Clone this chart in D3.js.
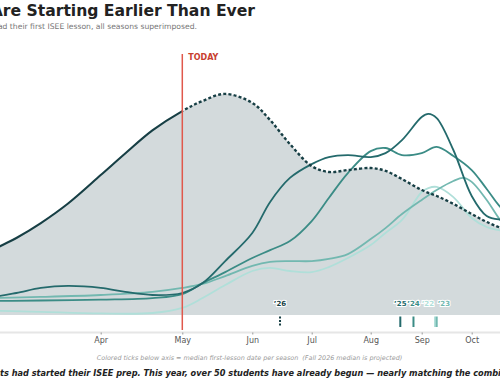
<!DOCTYPE html>
<html><head><meta charset="utf-8">
<script src="https://cdn.jsdelivr.net/npm/d3@7"></script>
<style>
html,body{margin:0;padding:0;background:#fff;overflow:hidden;}
svg{display:block;font-family:"DejaVu Sans",sans-serif;}
</style></head><body>
<svg id="chart" width="500" height="383"></svg>
<script>
// ---------- data ----------
const YEAR = 2026;
const monthTicks = ["04-01","05-01","06-01","07-01","08-01","09-01","10-01"];
const todayDate = "05-01";
const seasons = ["2022","2023","2024","2025","2026"];
const seasonTags = ["\u201922","\u201923","\u201924","\u201925","\u201926"];
const medianDates = ["09-09","09-10","08-27","08-19","06-15"];

const s2022 = [["02-01",0.27],["02-20",0.20],["03-10",0.14],["04-01",0.07],["04-20",0.09],["05-01",0.32],["05-10",0.77],["05-20",1.36],["06-01",2.00],["06-10",2.14],["06-20",2.00],["07-01",1.95],["07-10",2.18],["07-20",2.59],["08-01",3.18],["08-10",3.73],["08-20",4.32],["09-01",5.59],["09-05",5.77],["09-10",5.82],["09-20",5.36],["10-01",4.41],["10-10",4.00],["10-20",3.82],["10-31",3.73]];
const s2023 = [["02-01",0.73],["02-20",0.77],["03-10",0.82],["04-01",0.91],["04-20",1.05],["05-01",1.23],["05-10",1.41],["05-20",1.77],["06-01",2.23],["06-10",2.41],["06-20",2.45],["07-01",2.45],["07-10",2.55],["07-20",2.77],["08-01",3.45],["08-10",3.95],["08-20",4.59],["09-01",5.23],["09-10",5.68],["09-20",6.09],["09-26",6.23],["10-01",6.05],["10-10",5.23],["10-20",4.14],["10-31",3.50]];
const s2024 = [["02-01",0.64],["02-20",0.64],["03-10",0.66],["04-01",0.70],["04-20",0.77],["05-01",0.95],["05-10",1.45],["05-20",1.95],["06-01",2.59],["06-10",2.95],["06-20",3.36],["07-01",4.27],["07-10",5.32],["07-20",6.45],["08-01",7.45],["08-10",7.59],["08-20",7.27],["09-01",7.36],["09-10",7.64],["09-20",7.23],["10-01",6.59],["10-10",5.73],["10-20",4.77],["10-31",4.32]];
const s2025 = [["02-01",0.68],["02-20",0.82],["03-01",1.00],["03-10",1.23],["03-20",1.32],["04-01",1.23],["04-10",1.05],["04-20",0.91],["05-01",1.00],["05-10",1.45],["05-20",2.45],["06-01",3.73],["06-10",5.14],["06-20",6.23],["07-01",6.86],["07-10",7.18],["07-20",7.27],["08-01",7.18],["08-10",7.36],["08-20",7.95],["09-01",9.00],["09-05",9.14],["09-10",8.95],["09-20",7.50],["10-01",5.41],["10-10",4.50],["10-20",4.32],["10-31",4.23]];
const s2026 = [["02-01",1.00],["02-20",2.91],["03-01",3.50],["03-10",4.18],["03-20",5.07],["04-01",6.36],["04-10",7.34],["04-20",8.39],["05-01",9.27],["05-10",9.73],["05-20",10.05],["06-01",9.64],["06-10",8.86],["06-20",7.77],["07-01",6.77],["07-10",6.50],["07-20",6.59],["08-01",6.68],["08-10",6.55],["08-20",6.18],["09-01",5.68],["09-10",5.41],["09-20",5.05],["10-01",4.59],["10-10",4.23],["10-20",3.91],["10-31",3.59]];
const seriesData = [s2022, s2023, s2024, s2025, s2026];

const titleText = "ISEE Students Are Starting Earlier Than Ever";
const subtitleText = "Smoothed weekly count of students who had their first ISEE lesson, all seasons superimposed.";
const todayText = "TODAY";
const captionText = "Colored ticks below axis = median first-lesson date per season\u00a0\u00a0(Fall 2026 median is projected)";
const footerPrefix = "By this point last year, fewer studen";
const footerText = footerPrefix + "ts had started their ISEE prep. This year, over 50 students have already begun \u2014 nearly matching the combined total of previous seasons.";

// ---------- styles ----------
const palette = ["#b0dfd9","#72b8b0","#3b8c86","#246a6c","#173f45"];
const fillColor = "#d3dadc";

// ---------- scales ----------
const parse = s => d3.timeParse("%Y-%m-%d")(`${YEAR}-${s}`);
const x = d3.scaleTime()
  .domain(monthTicks.map(parse))
  .range([100.7, 182.3, 252.3, 311.7, 370.7, 421.7, 471.7]);
const y = d3.scaleLinear().domain([0, 12]).range([315, 51]);

const svg = d3.select("#chart");

// ---------- titles ----------
svg.append("text").attr("x", 255).attr("y", 15.7).attr("text-anchor", "end")
  .attr("font-size", 15.6).attr("font-weight", "bold").attr("fill", "#222").text(titleText);
svg.append("text").attr("x", 197).attr("y", 28.8).attr("text-anchor", "end")
  .attr("font-size", 7.65).attr("fill", "#777").text(subtitleText);

// ---------- area + lines ----------
const rows = seriesData.map(s => s.map(([d, v]) => ({date: parse(d), value: v})));
const curve = d3.curveCatmullRom.alpha(0.5);
const area = d3.area().x(d => x(d.date)).y0(y(0)).y1(d => y(d.value)).curve(curve);
const line = d3.line().x(d => x(d.date)).y(d => y(d.value)).curve(curve);

const current = rows[rows.length - 1];
svg.append("path").datum(current).attr("d", area).attr("fill", fillColor);

rows.slice(0, -1).forEach((r, i) => {
  svg.append("path").datum(r).attr("d", line).attr("fill", "none")
    .attr("stroke", palette[i]).attr("stroke-width", 1.8);
});

const today = parse(todayDate);
const defs = svg.append("defs");
defs.append("clipPath").attr("id", "past").append("rect")
  .attr("x", -1000).attr("y", 0).attr("width", x(today) + 1000).attr("height", 400);
defs.append("clipPath").attr("id", "future").append("rect")
  .attr("x", x(today)).attr("y", 0).attr("width", 2000).attr("height", 400);

svg.append("path").datum(current).attr("d", line).attr("fill", "none")
  .attr("stroke", palette[4]).attr("stroke-width", 2.1).attr("clip-path", "url(#past)");
svg.append("path").datum(current).attr("d", line).attr("fill", "none")
  .attr("stroke", palette[4]).attr("stroke-width", 2.4)
  .attr("stroke-dasharray", "3,2.2").attr("clip-path", "url(#future)");

// ---------- today marker ----------
svg.append("line").attr("x1", x(today)).attr("x2", x(today)).attr("y1", 54).attr("y2", 330)
  .attr("stroke", "#e0584c").attr("stroke-width", 1.5);
svg.append("text").attr("x", x(today) + 6).attr("y", 59.5).attr("font-size", 8)
  .attr("font-weight", "bold").attr("fill", "#c8402f").text(todayText);

// ---------- median ticks ----------
const medians = seasons.map((s, i) => ({tag: seasonTags[i], date: parse(medianDates[i]), color: palette[i], projected: i === seasons.length - 1}));
medians.forEach(m => { m.px = x(m.date); m.lx = m.px; });
const sorted = medians.slice().sort((a, b) => a.px - b.px);
for (let i = 1; i < sorted.length; i++) {
  const a = sorted[i - 1], b = sorted[i];
  if (b.px - a.px < 12) { const mid = (a.px + b.px) / 2; a.lx = mid - 8; b.lx = mid + 8; }
}
medians.forEach(m => {
  svg.append("line").attr("x1", m.px).attr("x2", m.px).attr("y1", 316.5).attr("y2", 327)
    .attr("stroke", m.color).attr("stroke-width", 2)
    .attr("stroke-dasharray", m.projected ? "2,1.5" : null);
  svg.append("text").attr("x", m.lx).attr("y", 305.5).attr("text-anchor", "middle")
    .attr("font-size", 7).attr("font-weight", "bold").attr("fill", m.color)
    .attr("stroke", "#fff").attr("stroke-width", 2).attr("paint-order", "stroke")
    .text(m.tag);
});

// ---------- axis ----------
const extent = d3.extent(current, d => d.date);
svg.append("line").attr("x1", x(extent[0])).attr("x2", x(extent[1])).attr("y1", 332.5).attr("y2", 332.5)
  .attr("stroke", "#e6e6e6").attr("stroke-width", 2);
const axis = svg.append("g").attr("transform", "translate(0,332.5)")
  .call(d3.axisBottom(x).tickValues(monthTicks.map(parse)).tickFormat(d3.timeFormat("%b")).tickSize(2).tickPadding(3));
axis.select(".domain").remove();
axis.selectAll(".tick line").attr("stroke", "#999");
axis.selectAll(".tick text").attr("font-size", 8).attr("fill", "#555").attr("font-family", "DejaVu Sans");

// ---------- caption + footer ----------
svg.append("text").attr("x", 249.5).attr("y", 360).attr("text-anchor", "middle")
  .attr("font-size", 6.4).attr("font-style", "italic").attr("fill", "#9a9a9a").text(captionText);
const foot = svg.append("text").attr("y", 376).attr("font-size", 8.2)
  .attr("font-weight", "bold").attr("font-style", "italic").attr("fill", "#222").text(footerText);
const pre = foot.node().getSubStringLength(0, footerPrefix.length);
foot.attr("x", -pre);
</script>
</body></html>
